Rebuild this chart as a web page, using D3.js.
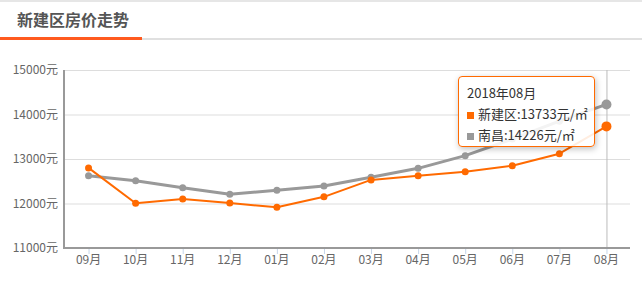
<!DOCTYPE html>
<html>
<head>
<meta charset="utf-8">
<script src="https://cdn.jsdelivr.net/npm/d3@7"></script>
<style>
  body { margin: 0; background: #fff; font-family: "Microsoft YaHei", "Noto Sans CJK SC", sans-serif; }
  #chart { position: relative; width: 642px; height: 291px; }
  .tip {
    position: absolute; left: 458px; top: 76px; width: 137px; height: 71px;
    background: rgba(255,255,255,0.88); border: 1px solid #ff6a00; border-radius: 4px;
    box-shadow: 1px 2px 6px rgba(0,0,0,0.25); font-size: 13px; color: #333;
    padding: 5px 0 0 8px; box-sizing: border-box; line-height: 21px; white-space: nowrap;
  }
  .tip .sq { display: inline-block; width: 7px; height: 7px; margin-right: 4px; }
</style>
</head>
<body>
<div id="chart"></div>
<script>
// chart data
var months = ["09月","10月","11月","12月","01月","02月","03月","04月","05月","06月","07月","08月"];
var xinjian = [12800, 12005, 12100, 12010, 11915, 12150, 12530, 12625, 12715, 12850, 13120, 13733];
var nanchang = [12625, 12512, 12355, 12206, 12296, 12393, 12589, 12790, 13075, 13450, 13850, 14226];
var yTicks = [11000, 12000, 13000, 14000, 15000];

var W = 642, H = 291;
var svg = d3.select("#chart").append("svg").attr("width", W).attr("height", H);

// header
svg.append("rect").attr("x", 0).attr("y", 0).attr("width", W).attr("height", 2).attr("fill", "#e6e6e6");
svg.append("text").attr("x", 17).attr("y", 26).text("新建区房价走势")
  .attr("font-size", 16).attr("font-weight", "bold").attr("fill", "#555");
svg.append("rect").attr("x", 0).attr("y", 38).attr("width", W).attr("height", 2).attr("fill", "#e0e0e0");
svg.append("rect").attr("x", 0).attr("y", 37).attr("width", 142).attr("height", 3).attr("fill", "#ff5a1f");

var x = d3.scaleBand().domain(months).range([65, 630]);
var y = d3.scaleLinear().domain([11000, 15000]).range([248, 70]);
var cx = function(i) { return x(months[i]) + x.bandwidth() / 2; };

// gridlines
svg.append("g").selectAll("line").data(yTicks.slice(1)).enter().append("line")
  .attr("x1", 65).attr("x2", 630)
  .attr("y1", function(d) { return y(d) + 0.5; }).attr("y2", function(d) { return y(d) + 0.5; })
  .attr("stroke", "#ddd").attr("stroke-width", 1);

// y labels
svg.append("g").selectAll("text").data(yTicks).enter().append("text")
  .attr("x", 58).attr("y", function(d) { return y(d) + 4; })
  .attr("text-anchor", "end").attr("font-size", 12).attr("fill", "#666")
  .text(function(d) { return d + "元"; });

// axis pointer
svg.append("line").attr("x1", cx(11) + 0.5).attr("x2", cx(11) + 0.5).attr("y1", 70).attr("y2", 248)
  .attr("stroke", "#bbb").attr("stroke-width", 1);

// axes
svg.append("line").attr("x1", 64).attr("x2", 64).attr("y1", 70).attr("y2", 249).attr("stroke", "#999").attr("stroke-width", 2);
svg.append("line").attr("x1", 63).attr("x2", 630).attr("y1", 248).attr("y2", 248).attr("stroke", "#999").attr("stroke-width", 2);

svg.append("g").selectAll("line").data(months).enter().append("line")
  .attr("x1", function(d, i) { return cx(i) + 0.5; }).attr("x2", function(d, i) { return cx(i) + 0.5; })
  .attr("y1", 249).attr("y2", 254).attr("stroke", "#c6d6ea");
svg.append("g").selectAll("text").data(months).enter().append("text")
  .attr("x", function(d, i) { return cx(i); }).attr("y", 264)
  .attr("text-anchor", "middle").attr("font-size", 12).attr("fill", "#666")
  .text(function(d) { return d; });

function drawSeries(vals, color, lw, r) {
  var line = d3.line().x(function(d, i) { return cx(i); }).y(function(d) { return y(d); });
  svg.append("path").datum(vals).attr("d", line).attr("fill", "none")
    .attr("stroke", color).attr("stroke-width", lw).attr("stroke-linejoin", "round");
  svg.append("g").selectAll("circle").data(vals).enter().append("circle")
    .attr("cx", function(d, i) { return cx(i); }).attr("cy", function(d) { return y(d); })
    .attr("r", function(d, i) { return i === vals.length - 1 ? 5 : r; })
    .attr("fill", color);
}
drawSeries(nanchang, "#999", 3, 3.5);
drawSeries(xinjian, "#ff6a00", 2, 3.5);

// tooltip
var last = months.length - 1;
var tip = d3.select("#chart").append("div").attr("class", "tip");
tip.append("div").text("2018年" + months[last]);
tip.append("div").html('<span class="sq" style="background:#ff6a00"></span>新建区:' + xinjian[last] + '元/㎡');
tip.append("div").html('<span class="sq" style="background:#999"></span>南昌:' + nanchang[last] + '元/㎡');
</script>
</body>
</html>
